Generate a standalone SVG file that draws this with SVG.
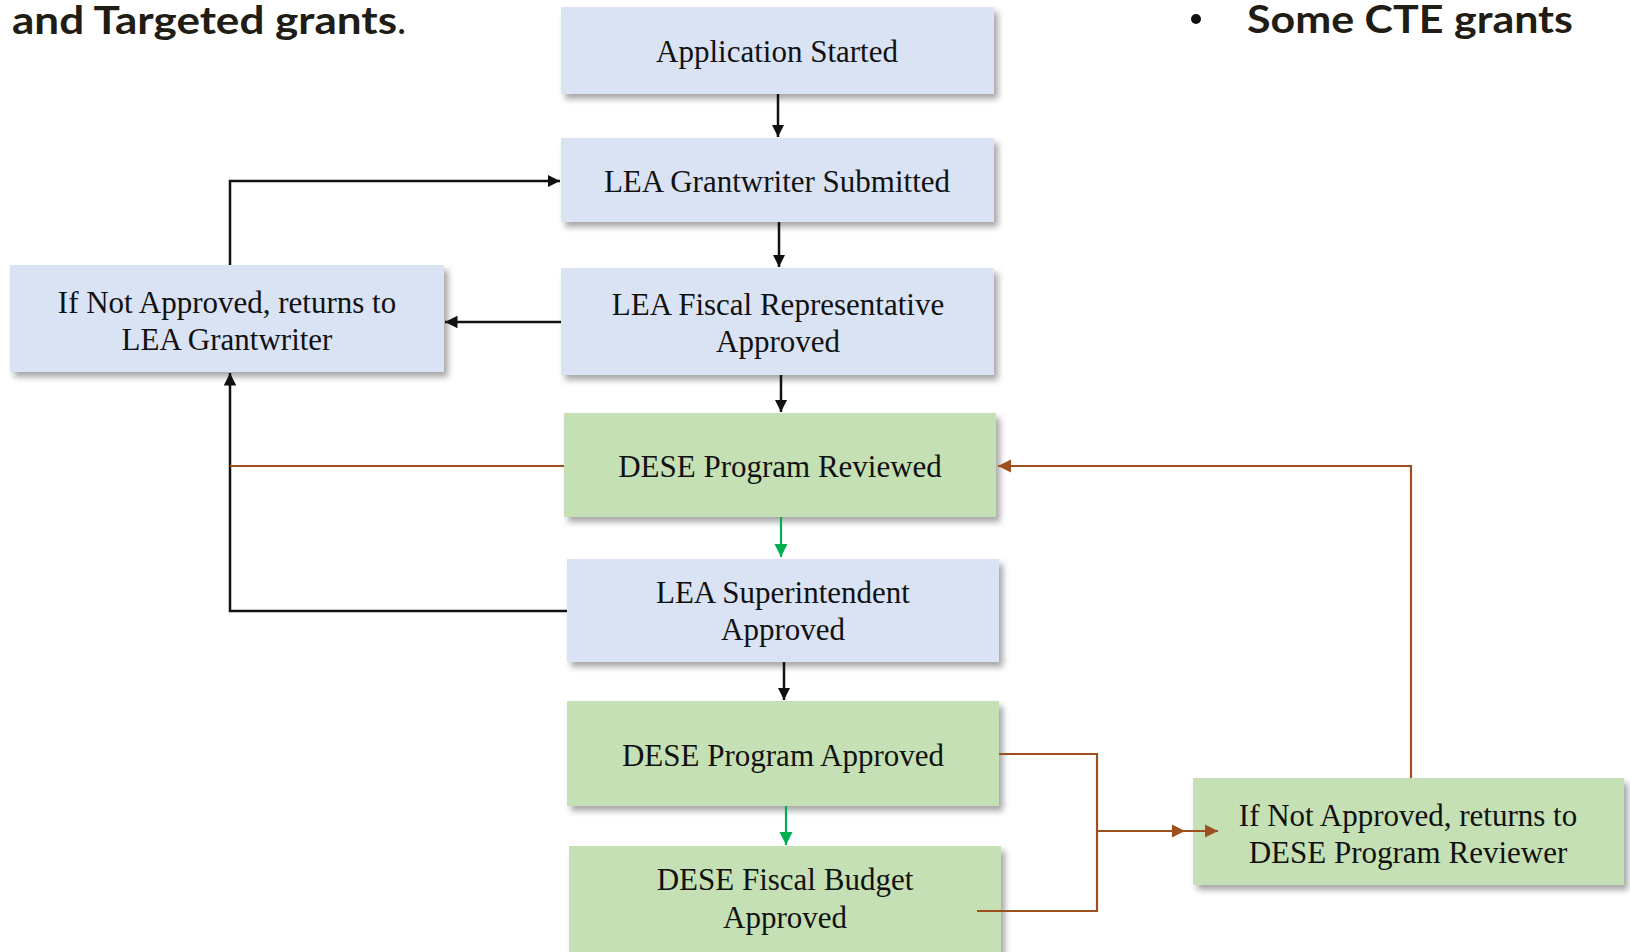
<svg xmlns="http://www.w3.org/2000/svg" width="1630" height="952" viewBox="0 0 1630 952">
  <style>
    .box-blue { fill: #dae3f3; filter: url(#shadow); }
    .box-green { fill: #c5e0b4; filter: url(#shadow); }
    .label { font-family: "Liberation Serif", "Times New Roman", serif; font-size: 31px; fill: #111; text-anchor: middle; }
    .heading { font-family: Lato, "Open Sans", sans-serif; font-weight: bold; font-size: 39px; fill: #1f1d14; }
    .line-black { fill: none; stroke: #111; stroke-width: 2.5; }
    .line-brown { fill: none; stroke: #9e4f1e; stroke-width: 2.2; }
    .line-green { fill: none; stroke: #00b050; stroke-width: 2.2; }
  </style>
  <defs>
    <filter id="shadow" x="-5%" y="-10%" width="115%" height="130%">
      <feDropShadow dx="4" dy="5" stdDeviation="3" flood-color="#000" flood-opacity="0.35"/>
    </filter>
    <marker id="arrow-black" viewBox="0 0 10 10" refX="10" refY="5" markerWidth="5" markerHeight="5" markerUnits="strokeWidth" orient="auto">
      <path d="M0,0 L10,5 L0,10 Z" fill="#111"/>
    </marker>
    <marker id="arrow-brown" viewBox="0 0 10 10" refX="10" refY="5" markerWidth="6" markerHeight="6" markerUnits="strokeWidth" orient="auto">
      <path d="M0,0 L10,5 L0,10 Z" fill="#9e4f1e"/>
    </marker>
    <marker id="arrow-green" viewBox="0 0 10 10" refX="10" refY="5" markerWidth="6" markerHeight="6" markerUnits="strokeWidth" orient="auto">
      <path d="M0,0 L10,5 L0,10 Z" fill="#00b050"/>
    </marker>
  </defs>

  <!-- slide headings around the chart -->
  <g id="heading-left">
    <text class="heading" x="12" y="34"><tspan textLength="385" lengthAdjust="spacingAndGlyphs">and Targeted grants</tspan><tspan font-weight="normal">.</tspan></text>
  </g>
  <g id="heading-right">
    <circle cx="1196" cy="19" r="5" fill="#111"/>
    <text class="heading" x="1247" y="33" textLength="326" lengthAdjust="spacingAndGlyphs" fill="#111">Some CTE grants</text>
  </g>

  <!-- process steps -->
  <g id="application-started">
    <rect class="box-blue" x="561" y="7" width="433" height="87"/>
    <text class="label" x="777" y="62">Application Started</text>
  </g>
  <g id="lea-grantwriter-submitted">
    <rect class="box-blue" x="561" y="138" width="433" height="84"/>
    <text class="label" x="777" y="192">LEA Grantwriter Submitted</text>
  </g>
  <g id="lea-fiscal-approved">
    <rect class="box-blue" x="561" y="268" width="433" height="107"/>
    <text class="label" x="778" y="315">LEA Fiscal Representative</text>
    <text class="label" x="778" y="352">Approved</text>
  </g>
  <g id="returns-to-grantwriter">
    <rect class="box-blue" x="10" y="265" width="434" height="107"/>
    <text class="label" x="227" y="313">If Not Approved, returns to</text>
    <text class="label" x="227" y="350">LEA Grantwriter</text>
  </g>
  <g id="dese-program-reviewed">
    <rect class="box-green" x="564" y="413" width="432" height="104"/>
    <text class="label" x="780" y="477">DESE Program Reviewed</text>
  </g>
  <g id="lea-superintendent-approved">
    <rect class="box-blue" x="567" y="559" width="432" height="103"/>
    <text class="label" x="783" y="603">LEA Superintendent</text>
    <text class="label" x="783" y="640">Approved</text>
  </g>
  <g id="dese-program-approved">
    <rect class="box-green" x="567" y="701" width="432" height="105"/>
    <text class="label" x="783" y="766">DESE Program Approved</text>
  </g>
  <g id="dese-fiscal-budget-approved">
    <rect class="box-green" x="569" y="846" width="432" height="112"/>
    <text class="label" x="785" y="890">DESE Fiscal Budget</text>
    <text class="label" x="785" y="928">Approved</text>
  </g>
  <g id="returns-to-program-reviewer">
    <rect class="box-green" x="1193" y="778" width="431" height="107"/>
    <text class="label" x="1408" y="826">If Not Approved, returns to</text>
    <text class="label" x="1408" y="863">DESE Program Reviewer</text>
  </g>

  <!-- connectors, drawn over the boxes -->
  <g id="connectors">
    <path class="line-black" d="M778,94 V137" marker-end="url(#arrow-black)"/>
    <path class="line-black" d="M779,222 V267" marker-end="url(#arrow-black)"/>
    <path class="line-black" d="M781,375 V412" marker-end="url(#arrow-black)"/>
    <path class="line-black" d="M561,322 H445" marker-end="url(#arrow-black)"/>
    <path class="line-black" d="M230,265 V181 H560" marker-end="url(#arrow-black)"/>
    <path class="line-black" d="M567,611 H230 V373" marker-end="url(#arrow-black)"/>
    <path class="line-brown" d="M564,466 H230"/>
    <path class="line-green" d="M781,517 V557" marker-end="url(#arrow-green)"/>
    <path class="line-black" d="M784,662 V700" marker-end="url(#arrow-black)"/>
    <path class="line-green" d="M786,806 V845" marker-end="url(#arrow-green)"/>
    <path class="line-brown" d="M999,754 H1097 V911 H977"/>
    <path class="line-brown" d="M1097,831 H1185 H1218" marker-mid="url(#arrow-brown)" marker-end="url(#arrow-brown)"/>
    <path class="line-brown" d="M1411,778 V466 H998" marker-end="url(#arrow-brown)"/>
  </g>
</svg>
